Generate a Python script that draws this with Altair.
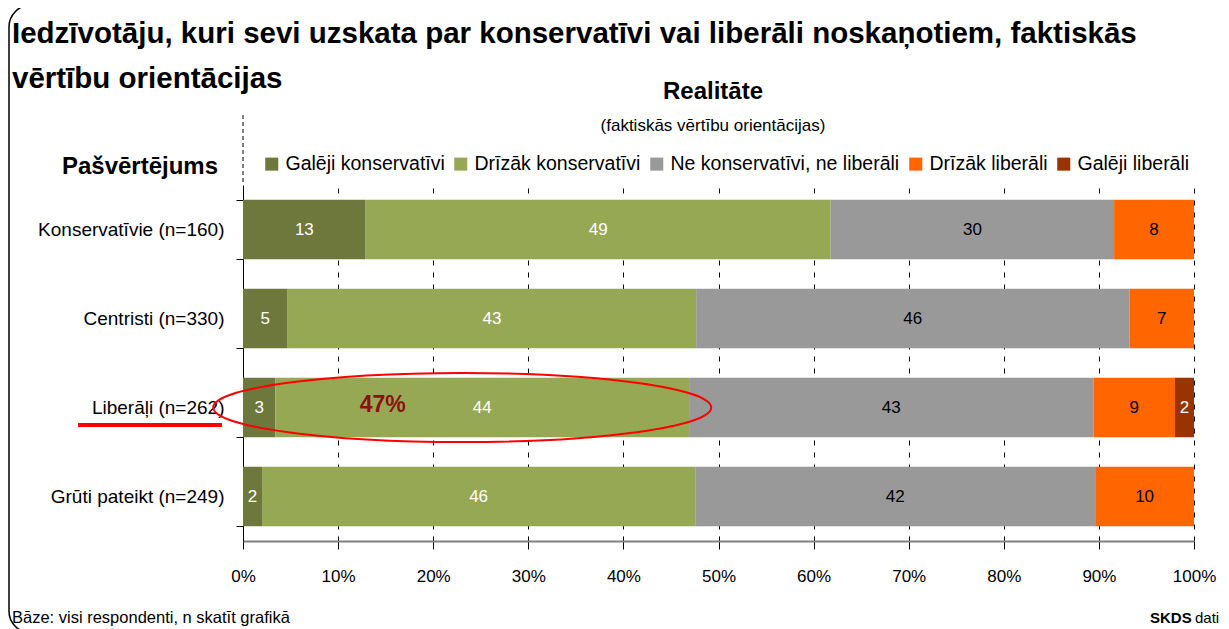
import altair as alt
import pandas as pd

# ---------------- data ----------------
groups = ["Konservatīvie (n=160)", "Centristi (n=330)", "Liberāļi (n=262)", "Grūti pateikt (n=249)"]
categories = ["Galēji konservatīvi", "Drīzāk konservatīvi", "Ne konservatīvi, ne liberāli",
              "Drīzāk liberāli", "Galēji liberāli"]
colors = ["#6E783D", "#97A854", "#999999", "#FF6600", "#993300"]
label_colors = ["white", "white", "black", "black", "white"]

# shares (%); labels show them rounded
konservativie = [12.9, 48.9, 29.8, 8.4, 0]
centristi = [4.7, 43.0, 45.6, 6.8, 0]
liberali = [3.4, 43.6, 42.6, 8.6, 2.0]
gruti = [2.0, 45.6, 42.1, 10.4, 0]
series = [konservativie, centristi, liberali, gruti]

x_ticks = [0, 0.1, 0.2, 0.3, 0.4, 0.5, 0.6, 0.7, 0.8, 0.9, 1.0]

heading_lines = ["Iedzīvotāju, kuri sevi uzskata par konservatīvi vai liberāli noskaņotiem, faktiskās",
                 "vērtību orientācijas"]
top_title = ["Realitāte"]
top_subtitle = ["(faktiskās vērtību orientācijas)"]
left_title = ["Pašvērtējums"]
footer_left = ["Bāze: visi respondenti, n skatīt grafikā"]
footer_bold = ["SKDS"]
footer_rest = ["dati"]

highlight_group = ["Liberāļi (n=262)"]
highlight_text = ["47%"]
highlight_text_x = [0.147]
ellipse_x = [0.2305]

F = "Liberation Sans Narrow, Arial Narrow, Liberation Sans, sans-serif"

rows = []
for g, vals in zip(groups, series):
    for i, (c, v) in enumerate(zip(categories, vals)):
        if v > 0:
            rows.append({"group": g, "cat": c, "order": i, "value": v, "tc": label_colors[i]})
df = pd.DataFrame(rows)

base = alt.Chart(df).transform_stack(
    stack="value", groupby=["group"], sort=[alt.SortField("order")],
    as_=["s0", "s1"], offset="normalize"
).transform_calculate(mid="(datum.s0 + datum.s1) / 2")

yenc = alt.Y("group:N", sort=groups, title=None,
             scale=alt.Scale(paddingInner=0.33, paddingOuter=0.165),
             axis=alt.Axis(labelFont=F, labelFontSize=19, labelColor="black", labelPadding=12,
                           tickBand="extent", tickSize=7, tickColor="black",
                           domainColor="black", grid=False, labelLimit=300))

xenc = alt.X("s0:Q", title=None, scale=alt.Scale(domain=[0, 1], nice=False),
             axis=alt.Axis(format=".0%", values=x_ticks, labelFont=F, labelFontSize=17,
                           labelColor="black", labelPadding=19, labelFlush=False,
                           tickSize=8, tickColor="black", domainColor="#808080", domainWidth=2,
                           grid=True, gridColor="black", gridDash=[5, 7], gridWidth=1))

bars = base.mark_bar().encode(
    x=xenc, x2="s1:Q", y=yenc,
    color=alt.Color("cat:N", scale=alt.Scale(domain=categories, range=colors),
                    legend=alt.Legend(title=None, orient="none", legendX=19, legendY=-31,
                                      direction="horizontal", symbolType="square",
                                      symbolSize=170, symbolStrokeWidth=0,
                                      labelFont=F, labelFontSize=19.5, labelColor="black",
                                      columnPadding=6, labelOffset=4, labelLimit=400))
)

lab_white = base.transform_filter(alt.datum.tc == "white").mark_text(
    font=F, fontSize=17, color="white").encode(
    x="mid:Q", y=alt.Y("group:N", sort=groups), text=alt.Text("value:Q", format=".0f"))
lab_black = base.transform_filter(alt.datum.tc == "black").mark_text(
    font=F, fontSize=17, color="black").encode(
    x="mid:Q", y=alt.Y("group:N", sort=groups), text=alt.Text("value:Q", format=".0f"))

hl = pd.DataFrame({"group": highlight_group, "t": highlight_text, "tx": highlight_text_x,
                   "ex": ellipse_x})

ellipse = alt.Chart(hl).mark_point(
    shape="M -1 0 A 1 0.139 0 1 1 1 0 A 1 0.139 0 1 1 -1 0 Z",
    size=498 * 498, stroke="#FF0000", strokeWidth=2, filled=False, opacity=1
).encode(x="ex:Q", y=alt.Y("group:N", sort=groups))

hl_text = alt.Chart(hl).mark_text(font=F, fontSize=23, fontWeight="bold", color="#8B1010",
                                  dy=-3).encode(
    x="tx:Q", y=alt.Y("group:N", sort=groups), text="t:N")

def txt(values, x, y, size, bold=False, align="left", color="black"):
    return alt.Chart(pd.DataFrame({"t": values})).mark_text(
        font=F, fontSize=size, fontWeight="bold" if bold else "normal", align=align,
        baseline="middle", color=color
    ).encode(text="t:N", x=alt.value(x), y=alt.value(y))

head1 = txt([heading_lines[0]], -231, -151, 29.5, bold=True)
head2 = txt([heading_lines[1]], -231, -106, 29.5, bold=True)
realitate = txt(top_title, 470, -93, 24, bold=True, align="center")
realsub = txt(top_subtitle, 470, -59, 17, align="center")
pasv = txt(left_title, -103, -18, 24, bold=True, align="center")
foot1 = txt(footer_left, -231, 433, 16.5)
foot2 = txt(footer_bold, 907, 433, 15, bold=True)
foot3 = txt(footer_rest, 952, 433, 15)

one = pd.DataFrame({"a": [1]})
underline = alt.Chart(one).mark_rule(color="#FF0000", strokeWidth=4).encode(
    x=alt.value(-165), x2=alt.value(-21), y=alt.value(240))
axis_ext = alt.Chart(one).mark_rule(color="black", strokeWidth=1, strokeDash=[4, 3]).encode(
    x=alt.value(0), y=alt.value(-70), y2=alt.value(0))
frame = alt.Chart(one).mark_rect(fill="transparent", stroke="black", strokeWidth=1.5,
                                 cornerRadius=22).encode(
    x=alt.value(-234), x2=alt.value(1000), y=alt.value(-180), y2=alt.value(448))

chart = alt.layer(
    frame, bars, lab_white, lab_black, ellipse, hl_text, underline, axis_ext,
    head1, head2, realitate, realsub, pasv, foot1, foot2, foot3
).properties(
    width=951, height=356,
    autosize=alt.AutoSizeParams(type="none"),
    padding={"left": 235, "top": 177, "right": 27, "bottom": 88},
    background="white"
).configure_view(stroke=None)

chart.save("out.html", embed_options={"renderer": "svg", "actions": False})
